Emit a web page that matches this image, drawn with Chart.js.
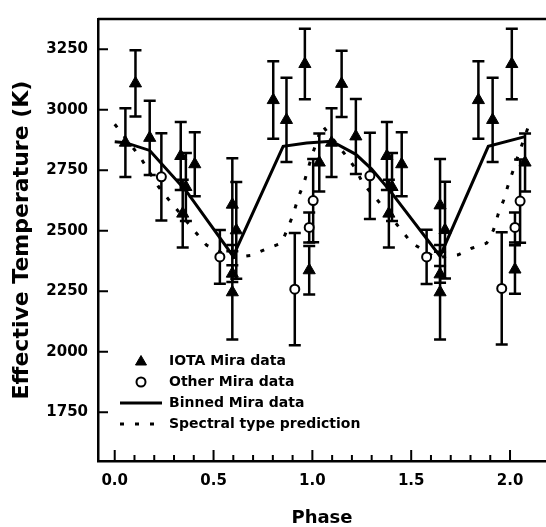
<!DOCTYPE html>
<html><head><meta charset="utf-8">
<script src="https://cdn.jsdelivr.net/npm/chart.js@4.4.0/dist/chart.umd.min.js"></script>
<style>html,body{margin:0;padding:0;background:#fff;overflow:hidden;}canvas{display:block;}</style>
</head><body>
<canvas id="c" width="546" height="527"></canvas>
<script>
// ---- data ----
const iotaPhase = [0.054,0.105,0.177,0.334,0.360,0.344,0.405,0.595,0.615,0.595,0.595,0.802,0.869,0.962,1.035,0.984,
                   1.097,1.148,1.220,1.377,1.403,1.387,1.452,1.646,1.671,1.646,1.646,1.840,1.912,2.009,2.076,2.025];
const iotaTemp  = [2864,3109,2884,2809,2681,2571,2775,2608,2502,2323,2246,3040,2958,3189,2782,2337,
                   2864,3107,2890,2809,2681,2571,2775,2605,2503,2320,2246,3040,2958,3189,2782,2340];
const iotaErr   = [142,137,153,140,140,140,132,192,200,35,195,160,174,146,120,100,
                   142,137,155,140,140,140,132,192,200,35,195,160,174,146,120,100];

const otherPhase = [0.236,0.532,0.911,1.004,0.984,1.291,1.578,1.958,2.051,2.025];
const otherTemp  = [2723,2392,2259,2625,2514,2727,2392,2262,2623,2514];
const otherErr   = [180,111,232,172,62,178,112,232,172,62];

const binnedPhase = [0.000,0.054,0.177,0.365,0.599,0.852,0.971,1.097,1.220,1.300,1.392,1.646,1.890,2.076];
const binnedTemp  = [2868,2864,2832,2661,2395,2849,2863,2870,2816,2755,2666,2395,2849,2889];

const specPhase = [0.000,0.127,0.219,0.270,0.397,0.464,0.590,0.692,0.776,0.844,0.877,0.903,0.928,0.957,0.979,1.000,1.050,
                   1.165,1.220,1.256,1.316,1.502,1.625,1.738,1.806,1.882,1.916,1.941,1.967,1.992,2.018,2.043,2.093];
const specTemp  = [2940,2807,2685,2632,2506,2441,2388,2399,2428,2449,2514,2568,2636,2696,2759,2816,2935,
                   2816,2755,2694,2640,2450,2388,2401,2428,2449,2503,2571,2625,2693,2754,2816,2931];

const seriesNames = ['IOTA Mira data','Other Mira data','Binned Mira data','Spectral type prediction'];
const xTickValues = [0,0.5,1,1.5,2];
const xTickLabels = ['0.0','0.5','1.0','1.5','2.0'];
const xMinorValues = [0.1,0.2,0.3,0.4,0.6,0.7,0.8,0.9,1.1,1.2,1.3,1.4,1.6,1.7,1.8,1.9];
const yTickValues = [1750,2000,2250,2500,2750,3000,3250];
const yTickLabels = ['1750','2000','2250','2500','2750','3000','3250'];
const xTitle = 'Phase';
const yTitle = 'Effective Temperature (K)';

// ---- helpers ----
const pts = (xs, ys) => xs.map((v, i) => ({x: v, y: ys[i]}));
const FONT = 'DejaVu Sans';

const circleImg = (() => {
  const cv = document.createElement('canvas'); cv.width = 14; cv.height = 14;
  const g = cv.getContext('2d');
  g.beginPath(); g.arc(7, 7, 4.5, 0, Math.PI * 2);
  g.fillStyle = '#fff'; g.fill(); g.lineWidth = 2; g.strokeStyle = '#000'; g.stroke();
  return cv;
})();
const triangleImg = (() => {
  const cv = document.createElement('canvas'); cv.width = 14; cv.height = 14;
  const g = cv.getContext('2d');
  g.beginPath(); g.moveTo(7, 1.5); g.lineTo(12.5, 11); g.lineTo(1.5, 11); g.closePath();
  g.fillStyle = '#000'; g.fill(); g.lineWidth = 1; g.strokeStyle = '#000'; g.stroke();
  return cv;
})();

const errorBars = {
  id: 'errorBars',
  beforeDatasetsDraw(chart) {
    const {ctx, scales: {x, y}} = chart;
    ctx.save();
    ctx.strokeStyle = '#000'; ctx.lineWidth = 2.5; ctx.lineCap = 'butt';
    chart.data.datasets.forEach(ds => {
      if (!ds.errors) return;
      ds.data.forEach((p, i) => {
        const px = x.getPixelForValue(p.x);
        const t = y.getPixelForValue(p.y + ds.errors[i]);
        const b = y.getPixelForValue(p.y - ds.errors[i]);
        ctx.beginPath();
        ctx.moveTo(px, t); ctx.lineTo(px, b);
        ctx.moveTo(px - 6, t); ctx.lineTo(px + 6, t);
        ctx.moveTo(px - 6, b); ctx.lineTo(px + 6, b);
        ctx.stroke();
      });
    });
    ctx.restore();
  }
};

const frame = {
  id: 'frame',
  afterDatasetsDraw(chart) {
    const {ctx, chartArea: a, scales: {x, y}} = chart;
    ctx.save();
    ctx.strokeStyle = '#000';
    ctx.lineWidth = 2.5;
    ctx.beginPath(); ctx.moveTo(a.left, a.top); ctx.lineTo(a.right, a.top); ctx.stroke();
    ctx.lineWidth = 2;
    ctx.beginPath();
    yTickValues.forEach(v => { const py = y.getPixelForValue(v); ctx.moveTo(a.left, py); ctx.lineTo(a.left + 10, py); });
    xTickValues.forEach(v => { const px = x.getPixelForValue(v); ctx.moveTo(px, a.bottom); ctx.lineTo(px, a.bottom - 11); });
    xMinorValues.forEach(v => { const px = x.getPixelForValue(v); ctx.moveTo(px, a.bottom); ctx.lineTo(px, a.bottom - 6); });
    ctx.stroke();
    ctx.restore();
  }
};

const legendPlace = {
  id: 'legendPlace',
  afterLayout(chart) {
    const lg = chart.legend; if (!lg) return;
    lg.left = 113; lg.top = 347;
    lg.right = lg.left + lg.width; lg.bottom = lg.top + lg.height;
  }
};

new Chart(document.getElementById('c'), {
  type: 'scatter',
  data: {
    datasets: [
      { label: seriesNames[0], data: pts(iotaPhase, iotaTemp), errors: iotaErr,
        pointStyle: 'triangle', pointRadius: 7, pointBackgroundColor: '#000', pointBorderColor: '#000',
        pointBorderWidth: 1, showLine: false },
      { label: seriesNames[1], data: pts(otherPhase, otherTemp), errors: otherErr,
        pointStyle: 'circle', pointRadius: 4.5, pointBackgroundColor: '#fff', pointBorderColor: '#000',
        pointBorderWidth: 2, showLine: false },
      { label: seriesNames[2], data: pts(binnedPhase, binnedTemp), showLine: true,
        borderColor: '#000', borderWidth: 3, pointRadius: 0, fill: false },
      { label: seriesNames[3], data: pts(specPhase, specTemp), showLine: true, tension: 0,
        borderColor: '#000', borderWidth: 3, borderDash: [4, 11], pointRadius: 0, fill: false }
    ]
  },
  options: {
    responsive: false, animation: false, devicePixelRatio: 1,
    layout: { autoPadding: false, padding: { top: 13, left: 0, right: 0, bottom: 0 } },
    plugins: {
      tooltip: { enabled: false },
      legend: {
        position: 'chartArea', align: 'start',
        labels: {
          usePointStyle: true, pointStyleWidth: 42, boxHeight: 14, padding: 7,
          color: '#000', font: { family: FONT, weight: 'bold', size: 14 },
          generateLabels: () => [
            { text: seriesNames[0], pointStyle: triangleImg, fillStyle: '#000', strokeStyle: '#000', lineWidth: 1, datasetIndex: 0, hidden: false },
            { text: seriesNames[1], pointStyle: circleImg, fillStyle: '#fff', strokeStyle: '#000', lineWidth: 2, datasetIndex: 1, hidden: false },
            { text: seriesNames[2], pointStyle: 'line', fillStyle: '#000', strokeStyle: '#000', lineWidth: 3, datasetIndex: 2, hidden: false },
            { text: seriesNames[3], pointStyle: 'line', fillStyle: '#000', strokeStyle: '#000', lineWidth: 3, lineDash: [4, 11], datasetIndex: 3, hidden: false }
          ]
        }
      }
    },
    scales: {
      x: {
        type: 'linear', min: -0.0846, max: 2.182,
        afterFit: s => { s.height = 66; },
        afterBuildTicks: s => { s.ticks = xTickValues.map(v => ({ value: v })); },
        grid: { display: false, drawTicks: false },
        border: { display: true, color: '#000', width: 2.5 },
        ticks: { autoSkip: false, maxRotation: 0, padding: 11, color: '#000',
                 font: { family: FONT, weight: 'bold', size: 15 },
                 callback: (v, i) => xTickLabels[i] },
        title: { display: true, text: xTitle, color: '#000', padding: { top: 0, bottom: 0 },
                 font: { family: FONT, weight: 'bold', size: 18, lineHeight: 1.0 } }
      },
      y: {
        type: 'linear', min: 1549, max: 3375,
        afterFit: s => { s.width = 98; },
        afterBuildTicks: s => { s.ticks = yTickValues.map(v => ({ value: v })); },
        grid: { display: false, drawTicks: false },
        border: { display: true, color: '#000', width: 2.5 },
        ticks: { autoSkip: false, padding: 10, color: '#000',
                 font: { family: FONT, weight: 'bold', size: 15 },
                 callback: (v, i) => yTickLabels[i] },
        title: { display: true, text: yTitle, color: '#000', padding: { top: 11, bottom: 0 },
                 font: { family: FONT, weight: 'bold', size: 22, lineHeight: 1.0 } }
      }
    }
  },
  plugins: [errorBars, frame, legendPlace]
});
</script>
</body></html>
